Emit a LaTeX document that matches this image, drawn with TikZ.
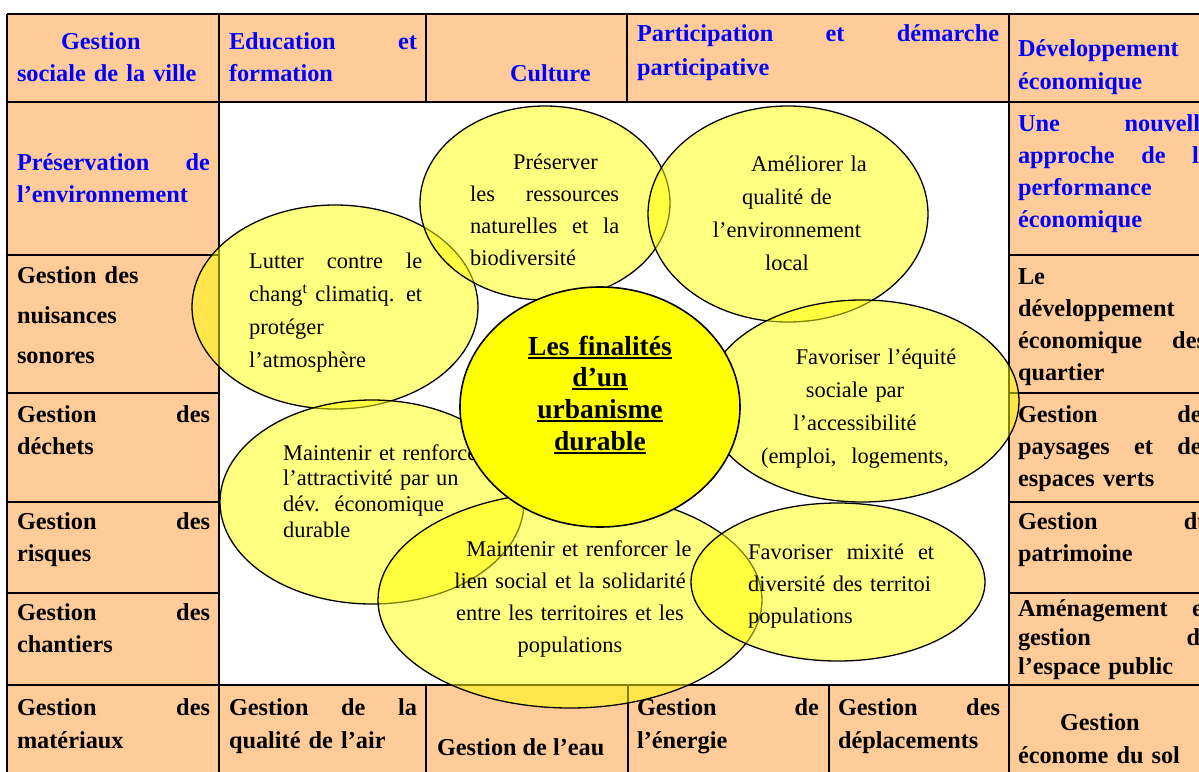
\documentclass[tikz,border=0pt]{standalone}
\usepackage{fontspec}
\setmainfont{Liberation Serif}
\usetikzlibrary{shapes.geometric}
\definecolor{peach}{HTML}{FFCC99}
\definecolor{hblue}{HTML}{0000FF}
\definecolor{bub}{HTML}{FFFF00}
\newcommand\myul[1]{\leavevmode\setbox0\hbox{#1}\rlap{\rule[-3.5pt]{\wd0}{2pt}}\box0}
\begin{document}
\begin{tikzpicture}[x=1pt,y=-1pt,
  cell/.style={anchor=base west, inner sep=0pt, outer sep=0pt, align=left, font=\bfseries\fontsize{24.3}{#1}\selectfont},
  cell/.default=32,
  bluecell/.style={cell=#1, text=hblue},
  bluecell/.default=32,
  bubble/.style={ellipse, draw=black, line width=1.3pt, fill=bub, fill opacity=0.5, inner sep=0pt},
  btext/.style={anchor=base west, inner sep=0pt, align=left, font=\fontsize{22.4}{#1}\selectfont},
  btext/.default=33,
  ctext/.style={anchor=base, inner sep=0pt, align=center, font=\fontsize{22.4}{#1}\selectfont},
  ctext/.default=33,
  tline/.style={line width=2.5pt},
  thinline/.style={line width=1.3pt},
]
\useasboundingbox (0,0) rectangle (1199,771);
\clip (0,0) rectangle (1199,771);
\fill[white] (0,0) rectangle (1199,771);
% cell fills
\fill[peach] (7,14) rectangle (1230,102);
\fill[peach] (7,102) rectangle (219,800);
\fill[peach] (1009,102) rectangle (1230,800);
\fill[peach] (219,685) rectangle (1009,800);
% table lines
\draw[tline] (7,14) -- (1230,14);
\draw[tline] (7,14) -- (7,800);
\draw[tline] (7,102) -- (1230,102);
\draw[tline] (219,14) -- (219,800);
\draw[tline] (426,14) -- (426,102);
\draw[tline] (627,14) -- (627,102);
\draw[tline] (1009,14) -- (1009,800);
\draw[tline] (7,685) -- (1230,685);
\draw[tline] (426,685) -- (426,800);
\draw[tline] (628,685) -- (628,800);
\draw[tline] (829,685) -- (829,800);
\draw[tline] (7,255) -- (219,255);
\draw[tline] (7,393) -- (219,393);
\draw[tline] (7,502) -- (219,502);
\draw[thinline] (7,593) -- (219,593);
\draw[tline] (1009,255) -- (1230,255);
\draw[tline] (1009,393) -- (1230,393);
\draw[tline] (1009,502) -- (1230,502);
\draw[thinline] (1009,593) -- (1230,593);
% top row
\node[bluecell, text width=193pt] (c1) at (17,49) {\hspace*{44pt}Gestion\\ sociale de la ville};
\node[bluecell, text width=188pt] (c2) at (229,49) {Education \hfill et\\ formation};
\node[bluecell] (c3) at (510,81) {Culture};
\node[bluecell=34, text width=362pt] (c4) at (637,41) {Participation \hfill et \hfill démarche\\ participative};
\node[bluecell=33, text width=193pt] (c5) at (1018,56) {Développement\\ économique};
% left column
\node[bluecell, text width=193pt] (l1) at (17,170) {Préservation \hfill de\\ l’environnement};
\node[cell=40, text width=193pt] (l2) at (17,283) {Gestion des\\ nuisances\\ sonores};
\node[cell, text width=193pt] (l3) at (17,422) {Gestion \hfill des\\ déchets};
\node[cell, text width=193pt] (l4) at (17,529) {Gestion \hfill des\\ risques};
\node[cell, text width=193pt] (l5) at (17,620) {Gestion \hfill des\\ chantiers};
\node[cell=33, text width=193pt] (l6) at (17,715) {Gestion \hfill des\\ matériaux};
% right column
\node[bluecell, text width=193pt] (r1) at (1018,131) {Une \hfill nouvelle\\ approche \hfill de \hfill la\\ performance\\ économique};
\node[cell, text width=188pt] (r2) at (1018,284) {Le\\ développement\\ économique \hfill des\\ quartier};
\node[cell, text width=193pt] (r3) at (1018,422) {Gestion \hfill des\\ paysages \hfill et \hfill des\\ espaces verts};
\node[cell, text width=193pt] (r4) at (1018,529) {Gestion \hfill du\\ patrimoine};
\node[cell=29, text width=193pt] (r5) at (1018,616) {Aménagement \hfill et\\ gestion \hfill de\\ l’espace public};
\node[cell=33, text width=193pt] (r6) at (1018,730) {\hspace*{42pt}Gestion\\ économe du sol};
% bottom row
\node[cell=33, text width=188pt] (b1) at (229,715) {Gestion \hfill de \hfill la\\ qualité de l’air};
\node[cell] (b2) at (437,755) {Gestion de l’eau};
\node[cell=33, text width=182pt] (b3) at (637,715) {Gestion \hfill de\\ l’énergie};
\node[cell=33, text width=162pt] (b4) at (838,715) {Gestion \hfill des\\ déplacements};
% bubbles
\node[bubble, minimum width=286pt, minimum height=204pt] (e1) at (335,307) {};
\node[btext, text width=173pt] (t1) at (249,268) {Lutter \hfill contre \hfill le\\ chang\textsuperscript{t} \hfill climatiq. \hfill et\\ protéger\\ l’atmosphère};
\node[bubble, minimum width=250pt, minimum height=194pt] (e2) at (545,203) {};
\node[btext=32, text width=149pt] (t2) at (470,169) {\hspace*{43pt}Préserver\\ les \hfill ressources\\ naturelles \hfill et \hfill la\\ biodiversité};
\node[bubble, minimum width=280pt, minimum height=216pt] (e3) at (788,214) {};
\node[ctext, text width=170pt] (t3) at (787,171) {\hspace*{44pt}Améliorer la\\ qualité de\\ l’environnement\\ local};
\node[bubble, minimum width=314pt, minimum height=202pt] (e4) at (862,401) {};
\node[ctext, text width=210pt] (t4) at (855,364) {\hspace*{42pt}Favoriser l’équité\\ sociale par\\ l’accessibilité\\ (emploi,\ \ logements,};
\node[bubble, minimum width=304pt, minimum height=204pt] (e5) at (372,502) {};
\node[btext=25.7, text width=240pt] (t5) at (283,460) {Maintenir et renforcer\\ l’attractivité par un\\ dév.\ \ économique\\ durable};
\node[bubble, minimum width=384pt, minimum height=216pt] (e6) at (570,600) {};
\node[ctext=32, text width=250pt] (t6) at (570,556) {\hspace*{18pt}Maintenir et renforcer le\\ lien social et la solidarité\\ entre les territoires et les\\ populations};
\node[bubble, minimum width=294pt, minimum height=158pt] (e7) at (838,582) {};
\node[btext=32, text width=186pt] (t7) at (748,559) {Favoriser \hfill mixité \hfill et\\ diversité des territoi\\ populations};
% centre
\node[ellipse, draw=black, line width=1.6pt, fill=bub, minimum width=280pt, minimum height=240pt, inner sep=0pt] (e0) at (600,407) {};
\node[anchor=base, inner sep=0pt, align=center, text width=240pt, font=\bfseries\fontsize{27.5}{31.7}\selectfont] (t0) at (600,355) {\myul{Les finalités}\\ \myul{d’un}\\ \myul{urbanisme}\\ \myul{durable}};
\end{tikzpicture}
\end{document}
